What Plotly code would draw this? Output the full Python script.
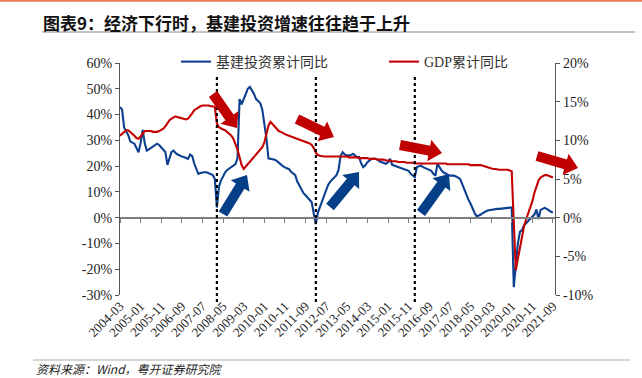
import math
import pandas as pd
import plotly.graph_objects as go

# ---------------- data ----------------
months = pd.date_range("2004-03-01", periods=211, freq="MS").strftime("%Y-%m").tolist()

infra_yoy = [
    42.9, 42.0, 35.0, 33.5, 32.0, 29.5, 29.0, 28.7, 27.0, 25.4,
    29.0, 34.0, 29.0, 26.0, 26.5, 27.0, 27.4, 28.0, 28.7, 28.2,
    27.4, 26.5, 25.5, 20.5, 23.5, 25.5, 26.0, 25.0, 24.5, 24.0,
    23.7, 23.5, 23.0, 22.8, 24.5, 24.0, 21.0, 19.0, 17.0, 17.3,
    17.6, 17.6, 17.6, 17.3, 17.0, 16.5, 15.0, 4.0, 12.0, 14.5,
    16.0, 17.6, 18.5, 19.0, 19.8, 20.3, 20.8, 23.0, 46.0, 44.0,
    46.0, 48.5, 50.0, 50.7, 49.5, 48.0, 46.0, 45.2, 44.5, 42.0,
    37.0, 31.0, 23.0, 22.8, 22.8, 22.5, 22.0, 21.3, 20.5, 20.0,
    19.5, 19.3, 18.8, 17.8, 17.2, 16.5, 14.0, 12.5, 10.8, 9.5,
    8.7, 7.8, 7.0, 6.0, 1.5, -2.5, 2.0, 4.5, 6.3, 8.5,
    10.5, 12.8, 14.0, 14.8, 15.5, 16.5, 18.5, 24.0, 25.4, 24.5,
    24.1, 24.1, 24.3, 24.8, 24.0, 23.5, 23.5, 21.0, 19.6, 20.3,
    21.5, 22.3, 22.8, 22.8, 22.8, 22.5, 21.8, 21.5, 21.2, 20.9,
    21.5, 22.8, 20.5, 20.2, 19.8, 19.6, 19.3, 19.0, 18.8, 18.5,
    18.2, 17.0, 16.3, 15.7, 19.6, 20.0, 20.2, 19.6, 19.2, 18.8,
    18.5, 18.2, 17.0, 16.3, 20.9, 19.5, 18.3, 17.5, 17.0, 16.6,
    16.3, 16.3, 16.3, 16.0, 15.5, 15.0, 13.0, 10.8, 8.8, 7.0,
    5.5, 3.5, 1.8, 0.5, 0.8, 1.2, 1.8, 2.3, 2.7, 2.9,
    3.1, 3.2, 3.3, 3.4, 3.4, 3.5, 3.6, 3.8, 3.9, 4.0,
    4.0, -27.0, -17.0, -10.0, -5.5, -4.8, -3.0, -2.2, -1.2, -0.4,
    0.4, 1.2, 3.2, -0.5, 3.0, 3.3, 3.8, 3.4, 2.8, 2.3, 2.0,
]

gdp_yoy = [
    10.6, 10.8, 11.0, 11.3, 11.3, 11.1, 10.9, 10.6, 10.3, 10.2,
    10.5, 10.9, 11.2, 11.2, 11.2, 11.2, 11.1, 11.1, 11.1, 11.2,
    11.3, 11.5, 11.8, 12.2, 12.6, 12.8, 13.0, 13.1, 13.0, 12.9,
    12.8, 12.7, 12.7, 12.8, 13.1, 13.5, 13.9, 14.1, 14.3, 14.4,
    14.5, 14.5, 14.5, 14.5, 14.4, 14.4, 14.3, 12.2, 11.7, 11.5,
    11.4, 11.3, 11.1, 10.9, 10.6, 10.2, 9.6, 8.8, 7.8, 6.8,
    6.3, 6.6, 7.0, 7.3, 7.6, 7.9, 8.2, 8.5, 8.8, 9.1,
    9.7, 11.0, 11.9, 12.4, 12.1, 11.8, 11.5, 11.2, 11.1, 10.9,
    10.8, 10.7, 10.6, 10.5, 10.4, 10.4, 10.3, 10.2, 10.1, 10.0,
    9.9, 9.8, 9.6, 9.4, 9.0, 8.4, 8.1, 8.0, 7.9, 7.9,
    7.9, 7.9, 7.9, 7.9, 7.9, 7.9, 7.9, 7.9, 7.9, 7.9,
    7.9, 7.8, 7.8, 7.8, 7.8, 7.8, 7.7, 7.7, 7.7, 7.7,
    7.7, 7.6, 7.6, 7.6, 7.6, 7.5, 7.5, 7.5, 7.5, 7.4,
    7.4, 7.4, 7.3, 7.3, 7.3, 7.2, 7.2, 7.2, 7.2, 7.1,
    7.1, 7.1, 7.1, 7.0, 7.0, 7.0, 7.0, 7.0, 7.0, 7.0,
    7.0, 7.0, 7.0, 7.0, 7.0, 7.0, 7.0, 7.0, 7.0, 6.9,
    6.9, 6.9, 6.9, 6.9, 6.9, 6.9, 6.9, 6.9, 6.9, 6.9,
    6.8, 6.8, 6.8, 6.8, 6.8, 6.8, 6.7, 6.6, 6.5, 6.4,
    6.3, 6.3, 6.3, 6.2, 6.2, 6.2, 6.2, 6.2, 6.2, 6.1,
    6.0, -0.5, -6.8, -5.3, -3.8, -2.1, -1.1, -0.2, 0.5, 1.3,
    2.1, 3.2, 4.1, 4.8, 5.2, 5.4, 5.5, 5.5, 5.4, 5.3, 5.2,
]

x_tickvals = months[::10]
left_tickvals = [-30, -20, -10, 0, 10, 20, 30, 40, 50, 60]
left_ticktext = ["-30%", "-20%", "-10%", "0%", "10%", "20%", "30%", "40%", "50%", "60%"]
right_tickvals = [-10, -5, 0, 5, 10, 15, 20]
right_ticktext = ["-10%", "-5%", "0%", "5%", "10%", "15%", "20%"]
downturn_months = ["2008-02", "2012-02", "2016-02"]

series_names = ["基建投资累计同比", "GDP累计同比"]
title_text = "图表9：经济下行时，基建投资增速往往趋于上升"
source_text = "资料来源：Wind，粤开证券研究院"

# ---------------- layout geometry ----------------
W, H = 642, 378
ML, MR, MT, MB = 120, 87, 63, 83
PW, PH = W - ML - MR, H - MT - MB

def px(x):
    return (x - ML) / PW

def py(y):
    return (H - MB - y) / PH

BLUE = "#0b3f8f"
RED = "#c40000"
SERIF = "Liberation Serif, Times New Roman, serif"
CJK = "Liberation Serif, Noto Sans CJK SC, serif"

fig = go.Figure()
fig.add_trace(go.Scatter(x=months, y=infra_yoy, name=series_names[0], mode="lines",
                         line=dict(color=BLUE, width=2.1), yaxis="y"))
fig.add_trace(go.Scatter(x=months, y=gdp_yoy, name=series_names[1], mode="lines",
                         line=dict(color=RED, width=2.1), yaxis="y2"))
# helper trace so the zero-level axis (x2) has the same categories
fig.add_trace(go.Scatter(x=months, y=infra_yoy, xaxis="x2", yaxis="y", mode="lines",
                         line=dict(width=0), opacity=0, showlegend=False, hoverinfo="skip"))

def arrow(x0, y0, x1, y1, color, sw=10, hw=22, hl=13):
    dx, dy = x1 - x0, y1 - y0
    L = math.hypot(dx, dy)
    ux, uy = dx / L, dy / L
    nx, ny = -uy, ux
    bx, by = x1 - ux * hl, y1 - uy * hl
    pts = [
        (x0 + nx * sw / 2, y0 + ny * sw / 2),
        (bx + nx * sw / 2, by + ny * sw / 2),
        (bx + nx * hw / 2, by + ny * hw / 2),
        (x1, y1),
        (bx - nx * hw / 2, by - ny * hw / 2),
        (bx - nx * sw / 2, by - ny * sw / 2),
        (x0 - nx * sw / 2, y0 - ny * sw / 2),
    ]
    path = "M " + " L ".join(f"{px(a):.5f},{py(b):.5f}" for a, b in pts) + " Z"
    return dict(type="path", path=path, xref="paper", yref="paper",
                fillcolor=color, line=dict(width=0), layer="above")

shapes = []
for m in downturn_months:
    shapes.append(dict(type="line", xref="x", yref="paper", x0=m, x1=m,
                       y0=py(302), y1=py(74), line=dict(color="black", width=2.2, dash="dot")))

for (a, b, c, d) in [(213, 94, 237, 128), (297, 119, 334, 137), (400, 145, 442, 153), (537, 156, 578, 168)]:
    shapes.append(arrow(a, b, c, d, "#c00000"))
for (a, b, c, d) in [(223, 214, 247, 175), (330, 207, 359, 172), (421, 213, 449, 174)]:
    shapes.append(arrow(a, b, c, d, "#053f87"))

# decorations: top strip, title underline, source separator
shapes.append(dict(type="line", xref="paper", yref="paper", x0=px(0), x1=px(642), y0=py(0.8), y1=py(0.8),
                   line=dict(color="#ee7755", width=2)))
shapes.append(dict(type="line", xref="paper", yref="paper", x0=px(42), x1=px(635), y0=py(32), y1=py(32),
                   line=dict(color="#c4c4c4", width=2)))
shapes.append(dict(type="line", xref="paper", yref="paper", x0=px(33), x1=px(630), y0=py(360), y1=py(360),
                   line=dict(color="#c8c8c8", width=1.5)))

annotations = [
    dict(text=f"<b>{title_text}</b>", xref="paper", yref="paper", x=px(41), y=py(22),
         xanchor="left", yanchor="middle", showarrow=False,
         font=dict(family="Noto Sans CJK SC", size=17, color="#111111")),
    dict(text=f"<i>{source_text}</i>", xref="paper", yref="paper", x=px(34), y=py(379),
         xanchor="left", yanchor="bottom", showarrow=False,
         font=dict(family="Noto Sans CJK SC", size=12, color="#222222")),
]

fig.update_layout(
    width=W, height=H,
    margin=dict(l=ML, r=MR, t=MT, b=MB, pad=0, autoexpand=False),
    paper_bgcolor="white", plot_bgcolor="white",
    showlegend=True,
    legend=dict(orientation="h", x=px(176), y=py(62), xanchor="left", yanchor="middle",
                font=dict(family=CJK, size=14, color="#333333"),
                entrywidth=163, entrywidthmode="pixels", bgcolor="rgba(0,0,0,0)",
                itemwidth=30, tracegroupgap=0),
    xaxis=dict(type="category", range=[0, 211], tickmode="array", tickvals=x_tickvals,
               ticktext=x_tickvals, tickangle=-45, ticks="", showline=False, showgrid=False,
               zeroline=False, tickfont=dict(family=SERIF, size=13, color="#222222"),
               anchor="y", side="bottom", automargin=False),
    xaxis2=dict(type="category", range=[0, 211], overlaying="x", anchor="free", position=1/3,
                tickmode="array", tickvals=x_tickvals, showticklabels=False, ticks="outside",
                ticklen=4, tickcolor="#7f7f7f", tickwidth=1, showline=True, linecolor="#7f7f7f",
                linewidth=2, showgrid=False, zeroline=False, side="bottom", automargin=False),
    yaxis=dict(range=[-30, 60], tickmode="array", tickvals=left_tickvals, ticktext=left_ticktext,
               showline=True, linecolor="#555555", linewidth=1.2, ticks="outside", ticklen=4,
               tickcolor="#555555", showgrid=False, zeroline=False, automargin=False,
               tickfont=dict(family=SERIF, size=14, color="#222222")),
    yaxis2=dict(range=[-10, 20], overlaying="y", side="right", tickmode="array",
                tickvals=right_tickvals, ticktext=right_ticktext, showline=True,
                linecolor="#555555", linewidth=1.2, ticks="outside", ticklen=4,
                tickcolor="#555555", showgrid=False, zeroline=False, automargin=False,
                tickfont=dict(family=SERIF, size=14, color="#222222")),
    shapes=shapes,
    annotations=annotations,
)

fig.write_html("out.html", config={"displayModeBar": False},
               post_script="document.body.style.margin='0px';")
